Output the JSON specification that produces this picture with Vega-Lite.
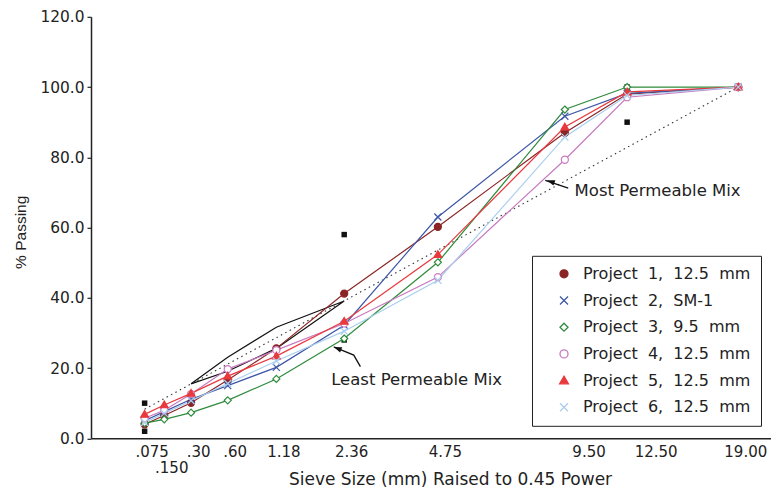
{
  "$schema": "https://vega.github.io/schema/vega-lite/v6.json",
  "width": 680,
  "height": 421.5,
  "autosize": {"type": "none"},
  "padding": {"left": 91, "top": 16.8, "right": 0, "bottom": 50.7},
  "config": {"font": "DejaVu Sans", "view": {"stroke": null}, "axis": {"grid": false}},
  "datasets": {
    "proj": [
      {"project": "Project 1, 12.5 mm", "sieve": 0.075, "pct": 4.0},
      {"project": "Project 1, 12.5 mm", "sieve": 0.15, "pct": 6.5},
      {"project": "Project 1, 12.5 mm", "sieve": 0.3, "pct": 10.1},
      {"project": "Project 1, 12.5 mm", "sieve": 0.6, "pct": 16.6},
      {"project": "Project 1, 12.5 mm", "sieve": 1.18, "pct": 25.6},
      {"project": "Project 1, 12.5 mm", "sieve": 2.36, "pct": 41.2},
      {"project": "Project 1, 12.5 mm", "sieve": 4.75, "pct": 60.2},
      {"project": "Project 1, 12.5 mm", "sieve": 9.5, "pct": 87.0},
      {"project": "Project 1, 12.5 mm", "sieve": 12.5, "pct": 98.0},
      {"project": "Project 1, 12.5 mm", "sieve": 19, "pct": 100},
      {"project": "Project 2, SM-1", "sieve": 0.075, "pct": 5.0},
      {"project": "Project 2, SM-1", "sieve": 0.15, "pct": 7.6},
      {"project": "Project 2, SM-1", "sieve": 0.3, "pct": 11.1},
      {"project": "Project 2, SM-1", "sieve": 0.6, "pct": 15.0},
      {"project": "Project 2, SM-1", "sieve": 1.18, "pct": 20.2},
      {"project": "Project 2, SM-1", "sieve": 2.36, "pct": 32.2},
      {"project": "Project 2, SM-1", "sieve": 4.75, "pct": 63.0},
      {"project": "Project 2, SM-1", "sieve": 9.5, "pct": 91.7},
      {"project": "Project 2, SM-1", "sieve": 12.5, "pct": 98.2},
      {"project": "Project 2, SM-1", "sieve": 19, "pct": 100},
      {"project": "Project 3, 9.5 mm", "sieve": 0.075, "pct": 4.3},
      {"project": "Project 3, 9.5 mm", "sieve": 0.15, "pct": 5.4},
      {"project": "Project 3, 9.5 mm", "sieve": 0.3, "pct": 7.3},
      {"project": "Project 3, 9.5 mm", "sieve": 0.6, "pct": 10.8},
      {"project": "Project 3, 9.5 mm", "sieve": 1.18, "pct": 16.9},
      {"project": "Project 3, 9.5 mm", "sieve": 2.36, "pct": 28.4},
      {"project": "Project 3, 9.5 mm", "sieve": 4.75, "pct": 50.1},
      {"project": "Project 3, 9.5 mm", "sieve": 9.5, "pct": 93.6},
      {"project": "Project 3, 9.5 mm", "sieve": 12.5, "pct": 100},
      {"project": "Project 3, 9.5 mm", "sieve": 19, "pct": 100},
      {"project": "Project 4, 12.5 mm", "sieve": 0.075, "pct": 5.7},
      {"project": "Project 4, 12.5 mm", "sieve": 0.15, "pct": 8.0},
      {"project": "Project 4, 12.5 mm", "sieve": 0.3, "pct": 12.6},
      {"project": "Project 4, 12.5 mm", "sieve": 0.6, "pct": 19.7},
      {"project": "Project 4, 12.5 mm", "sieve": 1.18, "pct": 25.1},
      {"project": "Project 4, 12.5 mm", "sieve": 2.36, "pct": 32.7},
      {"project": "Project 4, 12.5 mm", "sieve": 4.75, "pct": 45.9},
      {"project": "Project 4, 12.5 mm", "sieve": 9.5, "pct": 79.3},
      {"project": "Project 4, 12.5 mm", "sieve": 12.5, "pct": 97.1},
      {"project": "Project 4, 12.5 mm", "sieve": 19, "pct": 100},
      {"project": "Project 5, 12.5 mm", "sieve": 0.075, "pct": 6.8},
      {"project": "Project 5, 12.5 mm", "sieve": 0.15, "pct": 9.5},
      {"project": "Project 5, 12.5 mm", "sieve": 0.3, "pct": 12.8},
      {"project": "Project 5, 12.5 mm", "sieve": 0.6, "pct": 17.7},
      {"project": "Project 5, 12.5 mm", "sieve": 1.18, "pct": 23.4},
      {"project": "Project 5, 12.5 mm", "sieve": 2.36, "pct": 33.3},
      {"project": "Project 5, 12.5 mm", "sieve": 4.75, "pct": 52.3},
      {"project": "Project 5, 12.5 mm", "sieve": 9.5, "pct": 88.6},
      {"project": "Project 5, 12.5 mm", "sieve": 12.5, "pct": 98.6},
      {"project": "Project 5, 12.5 mm", "sieve": 19, "pct": 100},
      {"project": "Project 6, 12.5 mm", "sieve": 0.075, "pct": 4.5},
      {"project": "Project 6, 12.5 mm", "sieve": 0.15, "pct": 7.1},
      {"project": "Project 6, 12.5 mm", "sieve": 0.3, "pct": 10.7},
      {"project": "Project 6, 12.5 mm", "sieve": 0.6, "pct": 15.6},
      {"project": "Project 6, 12.5 mm", "sieve": 1.18, "pct": 22.0},
      {"project": "Project 6, 12.5 mm", "sieve": 2.36, "pct": 30.5},
      {"project": "Project 6, 12.5 mm", "sieve": 4.75, "pct": 45.0},
      {"project": "Project 6, 12.5 mm", "sieve": 9.5, "pct": 85.8},
      {"project": "Project 6, 12.5 mm", "sieve": 12.5, "pct": 97.6},
      {"project": "Project 6, 12.5 mm", "sieve": 19, "pct": 100}
    ],
    "zone": [
      {"ord": 1, "sieve": 0.3, "pct": 15.5},
      {"ord": 2, "sieve": 0.6, "pct": 23.1},
      {"ord": 3, "sieve": 1.18, "pct": 31.6},
      {"ord": 4, "sieve": 2.36, "pct": 39.1},
      {"ord": 5, "sieve": 1.18, "pct": 25.6},
      {"ord": 6, "sieve": 0.6, "pct": 19.1},
      {"ord": 7, "sieve": 0.3, "pct": 15.5}
    ],
    "mdl": [
      {"sieve": 0.075, "pct": 8.3},
      {"sieve": 19, "pct": 100}
    ],
    "ctrl": [
      {"sieve": 0.075, "pct": 2},
      {"sieve": 0.075, "pct": 10},
      {"sieve": 2.36, "pct": 28},
      {"sieve": 2.36, "pct": 58},
      {"sieve": 12.5, "pct": 90},
      {"sieve": 12.5, "pct": 100}
    ],
    "arrows": [
      {"id": "most", "ord": 1, "sieve": 8.65, "pct": 73.4},
      {"id": "most", "ord": 2, "sieve": 9.65, "pct": 71.2},
      {"id": "least", "ord": 1, "sieve": 2.149, "pct": 26.0},
      {"id": "least", "ord": 2, "sieve": 2.562, "pct": 23.7},
      {"id": "least", "ord": 3, "sieve": 2.709, "pct": 20.4}
    ],
    "notes": [
      {"label": "Most Permeable Mix", "sieve": 9.94, "pct": 70.4},
      {"label": "Least Permeable Mix", "sieve": 2.099, "pct": 16.6}
    ]
  },
  "layer": [
    {
      "data": {"name": "zone"},
      "mark": {"type": "line", "color": "#111", "strokeWidth": 1.2},
      "encoding": {
        "x": {
          "field": "sieve", "type": "quantitative",
          "scale": {"type": "pow", "exponent": 0.45, "domain": [0, 21.2], "nice": false},
          "axis": {
            "title": "Sieve Size (mm) Raised to 0.45 Power",
            "values": [0.075, 0.15, 0.3, 0.6, 1.18, 2.36, 4.75, 9.5, 12.5, 19],
            "labelExpr": "datum.value == 0.075 ? '.075' : datum.value == 0.15 ? ['', '.150'] : datum.value == 0.3 ? '.30' : datum.value == 0.6 ? '.60' : format(datum.value, '.2f')",
            "ticks": false,
            "domainColor": "#222",
            "domainWidth": 1.5,
            "labelFontSize": 15,
            "labelLineHeight": 16.5,
            "labelColor": "#222",
            "labelFlush": false,
            "labelOverlap": false,
            "labelPadding": 6,
            "labelOffset": 7,
            "labelAlign": {"condition": {"test": "datum.value == 9.5 || datum.value == 12.5", "value": "left"}, "value": "center"},
            "titleFontSize": 17,
            "titleFontWeight": "normal",
            "titleColor": "#222",
            "titleX": 359,
            "titleY": 41,
            "titleBaseline": "middle"
          }
        },
        "y": {
          "field": "pct", "type": "quantitative",
          "scale": {"domain": [0, 120], "nice": false},
          "axis": {
            "title": "% Passing",
            "values": [0, 20, 40, 60, 80, 100, 120],
            "format": ".1f",
            "tickSize": 4,
            "tickColor": "#222",
            "tickWidth": 1.2,
            "domainColor": "#222",
            "domainWidth": 1.5,
            "labelFontSize": 15.4,
            "labelPadding": 3,
            "labelColor": "#222",
            "titleFont": "Liberation Sans",
            "titleFontSize": 15.5,
            "titleFontWeight": "normal",
            "titleColor": "#222",
            "titleAlign": "center",
            "titleAngle": -90,
            "titleX": -66,
            "titleY": 215,
            "titleBaseline": "alphabetic"
          }
        },
        "order": {"field": "ord", "type": "quantitative"}
      }
    },
    {
      "data": {"name": "mdl"},
      "mark": {"type": "line", "color": "#333", "strokeWidth": 1.1, "strokeDash": [1.5, 3.5]},
      "encoding": {
        "x": {"field": "sieve", "type": "quantitative"},
        "y": {"field": "pct", "type": "quantitative"}
      }
    },
    {
      "data": {"name": "ctrl"},
      "mark": {"type": "point", "shape": "square", "filled": true, "color": "#111", "size": 30, "opacity": 1},
      "encoding": {
        "x": {"field": "sieve", "type": "quantitative"},
        "y": {"field": "pct", "type": "quantitative"}
      }
    },
    {
      "data": {"name": "proj"},
      "mark": {"type": "line", "strokeWidth": 1.2},
      "encoding": {
        "x": {"field": "sieve", "type": "quantitative"},
        "y": {"field": "pct", "type": "quantitative"},
        "stroke": {"field": "project", "type": "nominal"}
      }
    },
    {
      "data": {"name": "proj"},
      "mark": {"type": "point", "size": 50, "strokeWidth": 1.2, "opacity": 1},
      "encoding": {
        "x": {"field": "sieve", "type": "quantitative"},
        "y": {"field": "pct", "type": "quantitative"},
        "shape": {
          "field": "project", "type": "nominal", "legend": null,
          "scale": {
            "domain": ["Project 1, 12.5 mm", "Project 2, SM-1", "Project 3, 9.5 mm", "Project 4, 12.5 mm", "Project 5, 12.5 mm", "Project 6, 12.5 mm"],
            "range": ["circle", "M-1,-1L1,1M-1,1L1,-1", "M0,-1L1,0L0,1L-1,0Z", "circle", "M0,-1.1L1.1,0.8L-1.1,0.8Z", "M-1,-1L1,1M-1,1L1,-1"]
          }
        },
        "fill": {
          "field": "project", "type": "nominal", "legend": null,
          "scale": {
            "domain": ["Project 1, 12.5 mm", "Project 2, SM-1", "Project 3, 9.5 mm", "Project 4, 12.5 mm", "Project 5, 12.5 mm", "Project 6, 12.5 mm"],
            "range": ["#8b2525", "white", "white", "white", "#e8393d", "white"]
          }
        },
        "stroke": {
          "field": "project", "type": "nominal",
          "scale": {
            "domain": ["Project 1, 12.5 mm", "Project 2, SM-1", "Project 3, 9.5 mm", "Project 4, 12.5 mm", "Project 5, 12.5 mm", "Project 6, 12.5 mm"],
            "range": ["#8b2525", "#3f57a6", "#2e8b3b", "#c879c0", "#e8393d", "#a9cfef"]
          },
          "legend": {
            "orient": "none",
            "legendX": 441,
            "legendY": 239,
            "title": null,
            "strokeColor": "#222",
            "fillColor": "white",
            "padding": 10,
            "labelFontSize": 16,
            "labelColor": "#222",
            "labelLimit": 400,
            "labelExpr": "join(split(datum.label, ' '), '\u00a0 ')",
            "symbolType": "circle",
            "symbolSize": 64,
            "symbolStrokeWidth": 1.3,
            "rowPadding": 10.7,
            "symbolOffset": 14,
            "labelOffset": 11,
            "encode": {
              "legend": {"strokeWidth": {"value": 1.5}},
              "symbols": {
                "shape": {"value": {"expr": "datum.value == 'Project 1, 12.5 mm' ? 'M-3.6,0H3.6M-1,0A1,1,0,1,0,1,0A1,1,0,1,0,-1,0Z' : datum.value == 'Project 2, SM-1' ? 'M-3.6,0H3.6M-0.9,-0.9L0.9,0.9M-0.9,0.9L0.9,-0.9' : datum.value == 'Project 3, 9.5 mm' ? 'M-3.6,0H3.6M0,-1L1,0L0,1L-1,0Z' : datum.value == 'Project 4, 12.5 mm' ? 'M-3.6,0H3.6M-1,0A1,1,0,1,0,1,0A1,1,0,1,0,-1,0Z' : datum.value == 'Project 5, 12.5 mm' ? 'M-3.6,0H3.6M0,-1.1L1.1,0.8L-1.1,0.8Z' : 'M-3.6,0H3.6M-0.9,-0.9L0.9,0.9M-0.9,0.9L0.9,-0.9'"}},
                "fill": {"value": {"expr": "datum.value == 'Project 1, 12.5 mm' ? '#8b2525' : datum.value == 'Project 5, 12.5 mm' ? '#e8393d' : 'white'"}},
                "opacity": {"value": 1}
              }
            }
          }
        }
      }
    },
    {
      "data": {"name": "arrows"},
      "mark": {"type": "line", "color": "#111", "strokeWidth": 1.3},
      "encoding": {
        "x": {"field": "sieve", "type": "quantitative"},
        "y": {"field": "pct", "type": "quantitative"},
        "detail": {"field": "id", "type": "nominal"},
        "order": {"field": "ord", "type": "quantitative"}
      }
    },
    {
      "data": {"values": [{"sieve": 8.88, "pct": 73.1}]},
      "mark": {"type": "point", "shape": "M0,-1L0.7,1L-0.7,1Z", "filled": true, "color": "#111", "size": 64, "angle": 290, "opacity": 1},
      "encoding": {
        "x": {"field": "sieve", "type": "quantitative"},
        "y": {"field": "pct", "type": "quantitative"}
      }
    },
    {
      "data": {"values": [{"sieve": 2.223, "pct": 25.6}]},
      "mark": {"type": "point", "shape": "M0,-1L0.7,1L-0.7,1Z", "filled": true, "color": "#111", "size": 64, "angle": 292, "opacity": 1},
      "encoding": {
        "x": {"field": "sieve", "type": "quantitative"},
        "y": {"field": "pct", "type": "quantitative"}
      }
    },
    {
      "data": {"name": "notes"},
      "mark": {"type": "text", "align": "left", "baseline": "middle", "fontSize": 16.5, "color": "#222"},
      "encoding": {
        "x": {"field": "sieve", "type": "quantitative"},
        "y": {"field": "pct", "type": "quantitative"},
        "text": {"field": "label", "type": "nominal"}
      }
    }
  ]
}
